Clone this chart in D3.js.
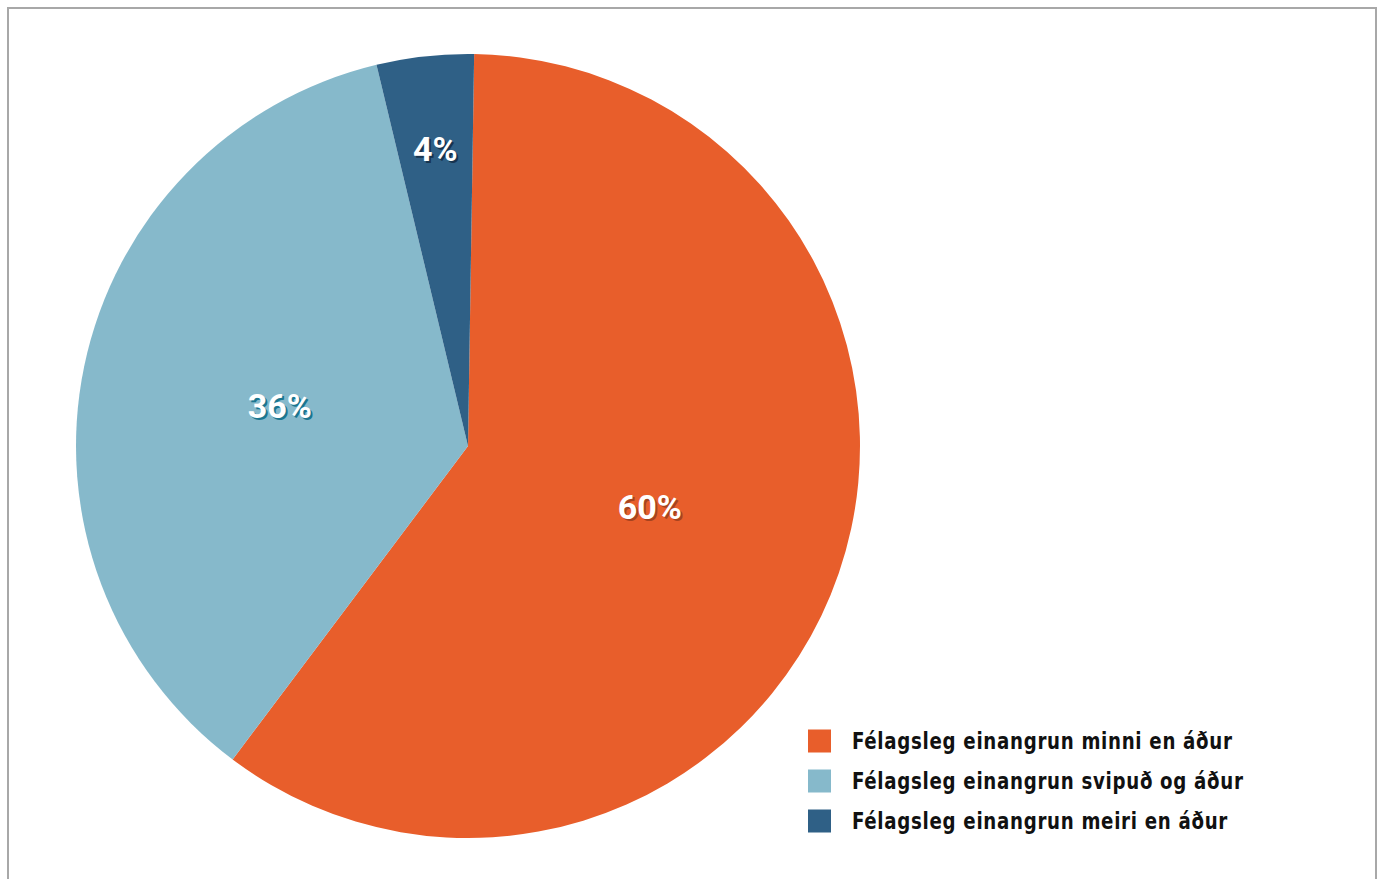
<!DOCTYPE html>
<html>
<head>
<meta charset="utf-8">
<script src="https://cdn.jsdelivr.net/npm/d3@7"></script>
<style>
  html, body { margin: 0; padding: 0; background: #ffffff; }
  svg { display: block; }
</style>
</head>
<body>
<svg id="chart" width="1382" height="879"></svg>
<script>
// Share of respondents by change in social isolation
const categories = [
  "Félagsleg einangrun minni en áður",
  "Félagsleg einangrun svipuð og áður",
  "Félagsleg einangrun meiri en áður"
];
const values = [60, 36, 4];
const valueLabels = ["60%", "36%", "4%"];

const sliceColors = ["#e85e2b", "#86b9cb", "#2f6086"];
const shadowColors = ["#a7431f", "#1b7690", "#17344f"];
// radial position of each value label, as a fraction of the radius
const labelRadiusFrac = [0.49, 0.49, 0.76];

const svg = d3.select("#chart");
const W = 1382, H = 879;

// outer frame
svg.append("rect")
  .attr("x", 8).attr("y", 8)
  .attr("width", 1368).attr("height", H + 10)
  .attr("fill", "none")
  .attr("stroke", "#a8a8a8")
  .attr("stroke-width", 2);

const cx = 468, cy = 446, R = 392;
const startAngle = 0.9 * Math.PI / 180;

const pie = d3.pie()
  .sort(null)
  .startAngle(startAngle)
  .endAngle(startAngle + 2 * Math.PI)
  .value(d => d);

const arcs = pie(values);
const arc = d3.arc().innerRadius(0).outerRadius(R);

const g = svg.append("g").attr("transform", `translate(${cx},${cy})`);

g.selectAll("path.slice")
  .data(arcs)
  .join("path")
  .attr("class", "slice")
  .attr("d", arc)
  .attr("fill", (d, i) => sliceColors[i]);

// value labels with a drop shadow in a darker tone of the slice
const labelFont = "Roboto, 'Open Sans', Arial, sans-serif";
arcs.forEach((d, i) => {
  const r = R * labelRadiusFrac[i];
  const a = (d.startAngle + d.endAngle) / 2;
  const x = Math.sin(a) * r;
  const y = -Math.cos(a) * r;
  [[2, 2, shadowColors[i]], [0, 0, "#ffffff"]].forEach(([dx, dy, col]) => {
    g.append("text")
      .attr("x", x + dx)
      .attr("y", y + dy + 11)
      .attr("text-anchor", "middle")
      .attr("font-family", labelFont)
      .attr("font-weight", 700)
      .attr("font-size", 34)
      .attr("fill", col)
      .text(valueLabels[i]);
  });
});

// legend
const legend = svg.append("g").attr("transform", "translate(808,741)");
const rowStep = 40;
const item = legend.selectAll("g.item")
  .data(categories)
  .join("g")
  .attr("class", "item")
  .attr("transform", (d, i) => `translate(0,${i * rowStep})`);

item.append("rect")
  .attr("x", 0).attr("y", -11.5)
  .attr("width", 23).attr("height", 23)
  .attr("fill", (d, i) => sliceColors[i]);

// condensed bold legend text, narrowed horizontally
item.append("text")
  .attr("transform", "translate(44,0) scale(0.88,1)")
  .attr("y", 8)
  .attr("font-family", "'DejaVu Sans Condensed', 'Liberation Sans Narrow', sans-serif")
  .attr("font-weight", 700)
  .attr("font-size", 23)
  .attr("letter-spacing", 0.8)
  .attr("fill", "#111111")
  .text(d => d);
</script>
</body>
</html>
